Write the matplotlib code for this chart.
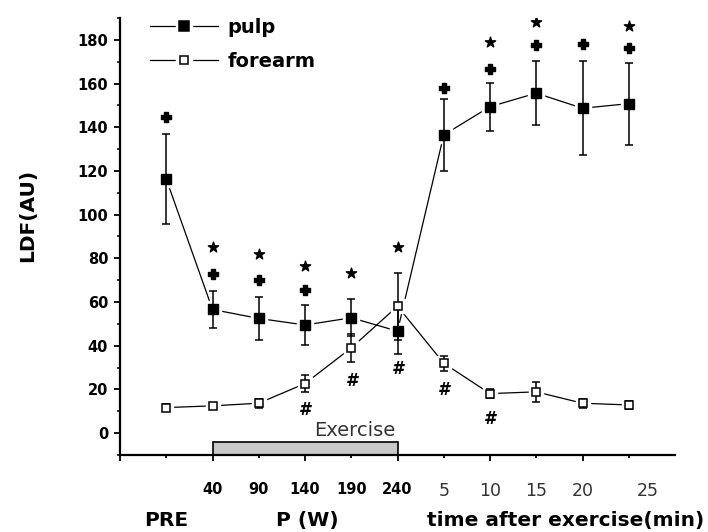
import numpy as np
import matplotlib
matplotlib.use('Agg')
import matplotlib.pyplot as plt
from matplotlib.patches import Rectangle
from matplotlib.lines import Line2D
from matplotlib.legend_handler import HandlerTuple
from matplotlib.ticker import MultipleLocator

# categories along x: baseline, workloads (W), minutes after exercise
stages = ['PRE', '40', '90', '140', '190', '240', '5', '10', '15', '20', '25']

# LDF values (AU), mean and error
pulp_mean = [116.3, 56.6, 52.5, 49.5, 52.8, 46.7, 136.5, 149.4, 155.6, 148.7, 150.8]
pulp_err = [20.8, 8.6, 9.8, 9.0, 8.4, 10.7, 16.5, 11.0, 14.5, 21.5, 18.7]
forearm_mean = [11.7, 12.5, 13.7, 22.7, 39.0, 58.1, 32.0, 18.1, 18.9, 13.7, 12.9]
forearm_err = [1.5, 1.5, 2.0, 4.0, 6.5, 15.4, 3.5, 2.0, 4.5, 2.0, 2.0]

# significance marks (stage index, y value)
star_idx = [1, 2, 3, 4, 5, 7, 8, 10]
star_y = [85, 82, 76.7, 73.4, 85, 179, 188, 186.3]
plus_idx = [0, 1, 2, 3, 6, 7, 8, 9, 10]
plus_y = [144.7, 73, 70, 65.4, 158, 166.7, 177.5, 178, 176.2]
hash_idx = [3, 4, 5, 6, 7]
hash_y = [10.6, 24, 29.2, 19.6, 6.4]

x = np.arange(len(stages))

fig = plt.figure(figsize=(7.08, 5.32), dpi=100)
ax = fig.add_axes([120/708, 1 - 455/532, 555/708, 437/532])

# connecting lines, with white gaps around the markers
ax.plot(x, pulp_mean, color='black', lw=0.9, zorder=1)
ax.plot(x, forearm_mean, color='black', lw=0.9, zorder=1)
ax.plot(x, pulp_mean, ls='none', marker='s', ms=11, color='white', zorder=2)
ax.plot(x, forearm_mean, ls='none', marker='s', ms=10, color='white', zorder=2)

ax.errorbar(x, pulp_mean, yerr=pulp_err, fmt='none', ecolor='black',
            elinewidth=1.1, capsize=2.6, capthick=1.1, zorder=3)
ax.errorbar(x, forearm_mean, yerr=forearm_err, fmt='none', ecolor='black',
            elinewidth=1.1, capsize=2.6, capthick=1.1, zorder=3)

ax.plot(x, pulp_mean, ls='none', marker='s', ms=6.5, mfc='black',
        mec='black', zorder=4)
ax.plot(x, forearm_mean, ls='none', marker='s', ms=5.8, mfc='white',
        mec='black', mew=1.1, zorder=4)

ax.scatter(star_idx, star_y, marker='*', s=60, color='black', zorder=5)
ax.scatter(plus_idx, plus_y, marker='P', s=45, color='black', zorder=5)
for i, yv in zip(hash_idx, hash_y):
    ax.text(i, yv, '#', ha='center', va='center', fontsize=12,
            fontweight='bold', fontstyle='italic')

# exercise period bar
ax.add_patch(Rectangle((1, -10), 4, 5.9, facecolor='#c8c8c8',
                       edgecolor='black', lw=1.2, zorder=2, clip_on=False))
ax.text(4.07, -1.4, 'Exercise', ha='center', va='baseline', fontsize=14,
        color='#333333')

ax.set_xlim(-1, 11)
ax.set_ylim(-10, 190)
for s in ['top', 'right']:
    ax.spines[s].set_visible(False)
for s in ['left', 'bottom']:
    ax.spines[s].set_linewidth(1.6)

ax.set_yticks(np.arange(0, 181, 20))
ax.yaxis.set_minor_locator(MultipleLocator(10))
ax.tick_params(axis='y', which='major', direction='out', length=4.5,
               width=1.3, pad=4, labelsize=10.5)
ax.tick_params(axis='y', which='minor', direction='out', length=2.5, width=1.1)
for lab in ax.get_yticklabels():
    lab.set_fontweight('bold')

xt = np.arange(-1, len(stages))
xlabels = ['', ''] + stages[1:-1] + ['']
ax.set_xticks(xt)
ax.set_xticklabels(xlabels)
ax.tick_params(axis='x', direction='out', length=4.5, width=1.3, pad=15)
for t, pos in zip(ax.xaxis.get_major_ticks(), xt):
    if pos >= 0 and pos % 2 == 0:
        t.tick1line.set_markersize(2.5)
for lab, pos in zip(ax.get_xticklabels(), xt):
    if 1 <= pos <= 5:
        lab.set_fontweight('bold')
        lab.set_fontsize(10.5)
    else:
        lab.set_fontsize(12.5)
        lab.set_color('#333333')
# last time label sits a bit right of its tick
ax.annotate(stages[-1], xy=(x[-1] + 0.4, 0), xycoords=('data', 'axes fraction'),
            xytext=(0, -(15 + 4.5)), textcoords='offset points',
            ha='center', va='top', fontsize=12.5, color='#333333')

# group labels below the axis
for xpos, txt in [(0, 'PRE'), (3.05, 'P (W)'), (8.64, 'time after exercise(min)')]:
    ax.annotate(txt, xy=(xpos, 0), xycoords=('data', 'axes fraction'),
                xytext=(0, -51), textcoords='offset points', ha='center',
                va='baseline', fontsize=14.5, fontweight='bold')

ax.text(-92/555, (455 - 215)/437, 'LDF(AU)', transform=ax.transAxes,
        rotation=90, ha='center', va='center', fontsize=14.5, fontweight='bold')

# legend
def key(filled):
    ln = Line2D([], [], color='black', lw=0.9)
    halo = Line2D([], [], ls='none', marker='s', ms=11, color='white')
    mk = Line2D([], [], ls='none', marker='s', ms=6.5 if filled else 5.8,
                mfc='black' if filled else 'white', mec='black', mew=1.1)
    return (ln, halo, mk)

ax.legend([key(True), key(False)], ['pulp', 'forearm'],
          handler_map={tuple: HandlerTuple(ndivide=1, pad=0)},
          loc='upper left', bbox_to_anchor=(150/708, 1 - 18/532),
          bbox_transform=fig.transFigure, frameon=False, borderpad=0,
          borderaxespad=0, handlelength=3.5, handletextpad=0.5,
          labelspacing=0.75, prop={'size': 14, 'weight': 'bold'})

fig.savefig('out.png', dpi=100)
